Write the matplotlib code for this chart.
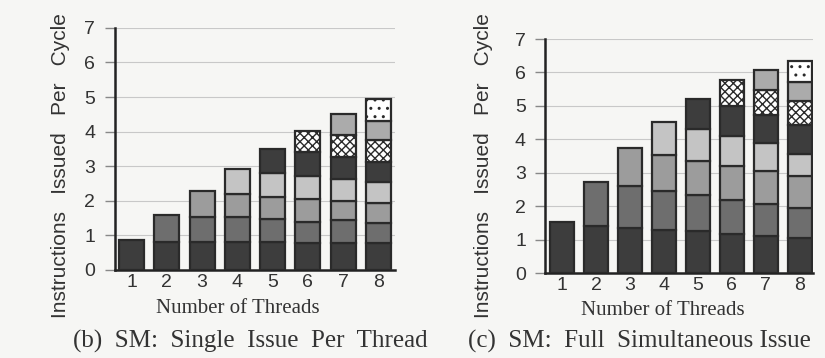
import numpy as np
import matplotlib
matplotlib.use("Agg")
import matplotlib.pyplot as plt

threads = [1, 2, 3, 4, 5, 6, 7, 8]

# per-thread contributions, thread k appears from bar k onward
single_issue = [
    [0.87, 0.80, 0.80, 0.80, 0.80, 0.77, 0.77, 0.77],
    [0.80, 0.73, 0.73, 0.68, 0.63, 0.66, 0.59],
    [0.74, 0.67, 0.63, 0.64, 0.55, 0.58],
    [0.73, 0.68, 0.68, 0.66, 0.59],
    [0.70, 0.70, 0.63, 0.60],
    [0.60, 0.63, 0.63],
    [0.60, 0.56],
    [0.62],
]
full_issue = [
    [1.52, 1.41, 1.34, 1.29, 1.25, 1.17, 1.12, 1.06],
    [1.31, 1.28, 1.18, 1.09, 1.02, 0.95, 0.88],
    [1.11, 1.05, 1.00, 1.02, 0.99, 0.95],
    [1.01, 0.96, 0.90, 0.84, 0.68],
    [0.91, 0.89, 0.83, 0.85],
    [0.76, 0.75, 0.72],
    [0.60, 0.58],
    [0.61],
]
captions = ["(b)  SM:  Single  Issue  Per  Thread", "(c)  SM:  Full  Simultaneous Issue"]

fills = ["#3d3d3d", "#6e6e6e", "#9c9c9c", "#c4c4c4", "#3d3d3d", "#ffffff", "#ababab", "#ffffff"]
hatches = [None, None, None, None, None, "xxxx", None, ".."]

bg = "#f6f6f4"
fig = plt.figure(figsize=(8.25, 3.58), dpi=100, facecolor=bg)
ax1 = fig.add_axes([0.139, 0.246, 0.340, 0.676])
ax2 = fig.add_axes([0.661, 0.237, 0.324, 0.654])

sans = "Liberation Sans"
serif = "Liberation Serif"

for ax, data, xlim, ylab_pos in [(ax1, single_issue, (0.52, 8.48), (-0.16, 0.43)),
                                 (ax2, full_issue, (0.50, 8.38), (-0.195, 0.46))]:
    ax.set_facecolor(bg)
    bottoms = np.zeros(len(threads))
    for k, seg in enumerate(data):
        xs = threads[k:]
        b = bottoms[k:]
        ax.bar(xs, seg, bottom=b, width=0.71, color=fills[k], hatch=hatches[k],
               edgecolor="#2a2a2a", linewidth=1.6, zorder=3)
        bottoms[k:] = b + np.array(seg)
    ax.set_xlim(*xlim)
    ax.set_ylim(0, 7)
    ax.set_yticks(range(8))
    ax.set_xticks(threads)
    ax.yaxis.grid(True, color="#c8c8c8", linewidth=0.8, zorder=0)
    ax.set_axisbelow(True)
    for s in ["top", "right"]:
        ax.spines[s].set_visible(False)
    for s in ["left", "bottom"]:
        ax.spines[s].set_linewidth(1.8)
        ax.spines[s].set_color("#222222")
    ax.tick_params(axis="y", length=7, width=1, color="#888888", pad=7,
                   labelsize=14, labelcolor="#333333")
    ax.tick_params(axis="x", length=0, pad=3, labelsize=14, labelcolor="#333333")
    for lab in ax.get_xticklabels() + ax.get_yticklabels():
        lab.set_fontfamily(sans)
    ax.set_ylabel("Instructions   Issued   Per   Cycle", fontsize=15, family=sans,
                  color="#333333")
    ax.yaxis.set_label_coords(*ylab_pos)
    ax.set_xlabel("Number of Threads", fontsize=15, family=serif, color="#333333")
    ax.xaxis.set_label_coords(0.44, -0.12)

fig.text(0.088, 0.03, captions[0], fontsize=18, family=serif, color="#333333")
fig.text(0.567, 0.03, captions[1], fontsize=18, family=serif, color="#333333")

fig.savefig("out.png", dpi=100, facecolor=bg)
